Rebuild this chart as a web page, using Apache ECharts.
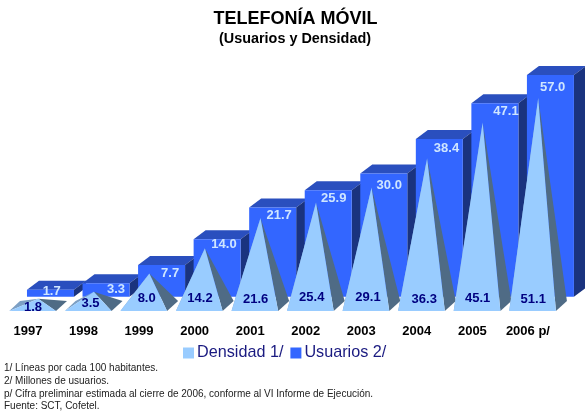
<!DOCTYPE html>
<html>
<head>
<meta charset="utf-8">
<style>html,body{margin:0;padding:0;background:#fff}#c{width:585px;height:414px}</style>
<script src="https://cdn.jsdelivr.net/npm/echarts@6/dist/echarts.min.js"></script>
</head>
<body>
<div id="c"></div>
<script>
const years = ['1997','1998','1999','2000','2001','2002','2003','2004','2005','2006 p/'];
const densidad = [1.8,3.5,8.0,14.2,21.6,25.4,29.1,36.3,45.1,51.1];
const usuarios = [1.7,3.3,7.7,14.0,21.7,25.9,30.0,38.4,47.1,57.0];
const axisMax = 54; // the reference's 2006 bar is cut off at the top of the axis

// Hand-placed value labels in the reference: offsets from each mark (layout only)
const barLabelDx = [23.7,32.5,31,29.4,29,28,28,29.7,33.6,24.7];
const barLabelDy = [1.9,6,8.5,5.5,7.5,8.5,12,9.5,7.9,12.2];
const pyrLabelDx = [5,7,7.6,5.4,5.5,6,6.7,7.4,5.3,5.3];
const pyrLabelDy = [3.5,7.5,12.8,12.5,11.2,13.2,13.5,11.2,12.2,11.8];

const font = 'Liberation Sans, Arial, sans-serif';
const poly = (pts, fill) => ({type:'polygon', shape:{points:pts}, style:{fill:fill, stroke:null}});

function renderBar(params, api){
  const i = api.value(0), v = Math.min(api.value(1), axisMax);
  const top = api.coord([i, v]), base = api.coord([i, 0]);
  const x0 = top[0]-1, x1 = top[0]+46, y0 = top[1], y1 = base[1], dx = 12, dy = 9;
  return {type:'group', children:[
    poly([[x0,y0],[x1,y0],[x1+dx,y0-dy],[x0+dx,y0-dy]], '#2a4fbe'),
    poly([[x1,y0],[x1+dx,y0-dy],[x1+dx,y1-dy],[x1,y1]], '#1a337f'),
    poly([[x0,y0],[x1,y0],[x1,y1],[x0,y1]], '#3366ff'),
    {type:'text', x:top[0]+barLabelDx[i], y:y0+barLabelDy[i],
     style:{text:api.value(1).toFixed(1), fill:'#cfe6ff', font:'bold 13px '+font, textAlign:'center', textVerticalAlign:'middle'}}
  ]};
}

function renderPyramid(params, api){
  const i = api.value(0), v = api.value(1);
  const top = api.coord([i, v]), base = api.coord([i, 0]);
  const cx = top[0], cy = base[1];
  const apex = [cx+10.3, top[1]];
  const fl = [cx-18.7, cy+5], fr = [cx+28, cy+5], br = [cx+39, cy-5], bl = [cx-8, cy-5];
  return {type:'group', children:[
    poly([fl,bl,apex], '#7c9fc4'),
    poly([fr,br,apex], '#4f6b85'),
    poly([fl,fr,apex], '#99ccff'),
    {type:'text', x:cx+pyrLabelDx[i], y:cy+5-pyrLabelDy[i],
     style:{text:v.toFixed(1), fill:'#000080', font:'bold 13px '+font, textAlign:'center', textVerticalAlign:'middle'}}
  ]};
}

const chart = echarts.init(document.getElementById('c'), null, {renderer:'canvas'});
chart.setOption({
  animation:false,
  backgroundColor:'#fff',
  title:[
    {text:'TELEFONÍA MÓVIL', left:295.5, top:10, textAlign:'center', padding:0,
     textStyle:{fontFamily:font, fontSize:18, fontWeight:'bold', color:'#000'}},
    {text:'(Usuarios y Densidad)', left:295, top:32, textAlign:'center', padding:0,
     textStyle:{fontFamily:font, fontSize:14.4, fontWeight:'bold', color:'#000'}},
    {text:'1/ Líneas por cada 100 habitantes.\n2/ Millones de usuarios.\np/ Cifra preliminar estimada al cierre de 2006, conforme al VI Informe de Ejecución.\nFuente: SCT, Cofetel.',
     left:4, top:362, padding:0,
     textStyle:{fontFamily:font, fontSize:10, fontWeight:'normal', color:'#222', lineHeight:12.7}}
  ],
  legend:{
    data:['Densidad 1/','Usuarios 2/'], left:183, top:345, padding:0,
    icon:'rect', itemWidth:11, itemHeight:11, itemGap:7,
    textStyle:{fontFamily:font, fontSize:16.2, color:'#1a1a80', padding:[0,0,0,-2]}
  },
  grid:[
    {left:0.2, width:555.5, top:86.2, height:219.8},
    {left:0.2, width:555.5, top:75, height:221.7}
  ],
  xAxis:[
    {type:'category', gridIndex:0, data:years,
     axisLine:{show:false}, axisTick:{show:false},
     axisLabel:{margin:19, interval:0, fontFamily:font, fontSize:13, fontWeight:'bold', color:'#000'}},
    {type:'category', gridIndex:1, data:years, show:false}
  ],
  yAxis:[
    {type:'value', gridIndex:0, min:0, max:axisMax, show:false},
    {type:'value', gridIndex:1, min:0, max:axisMax, show:false}
  ],
  series:[
    {name:'Usuarios 2/', type:'custom', xAxisIndex:1, yAxisIndex:1, renderItem:renderBar, clip:false,
     itemStyle:{color:'#3366ff'}, encode:{x:0,y:1}, data:usuarios.map((v,i)=>[i,v]), z:2},
    {name:'Densidad 1/', type:'custom', xAxisIndex:0, yAxisIndex:0, renderItem:renderPyramid, clip:false,
     itemStyle:{color:'#99ccff'}, encode:{x:0,y:1}, data:densidad.map((v,i)=>[i,v]), z:3}
  ]
});
</script>
</body>
</html>
